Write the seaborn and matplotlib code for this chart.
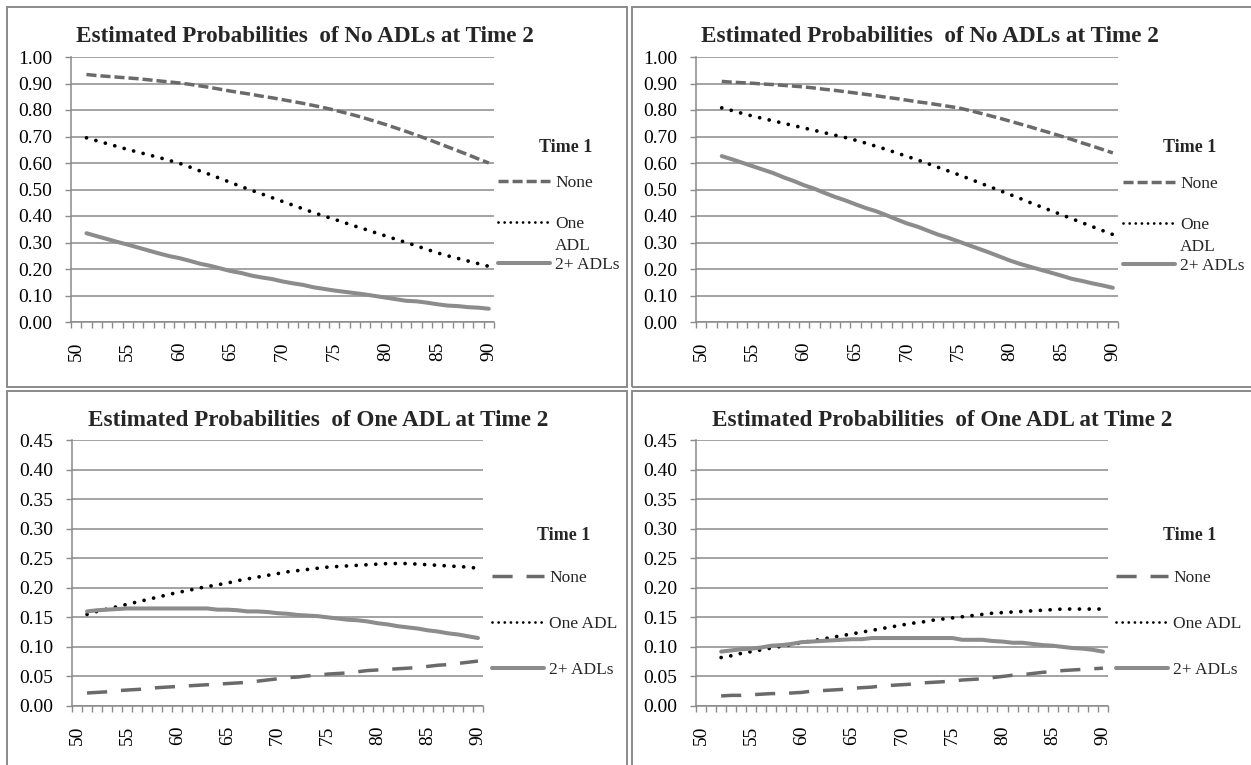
import numpy as np
import pandas as pd
import matplotlib
matplotlib.use('Agg')
import matplotlib.pyplot as plt
import seaborn as sns
from matplotlib.lines import Line2D
from matplotlib.patches import Rectangle

sns.set_theme(style='white')
plt.rcParams['font.family'] = ['Liberation Serif', 'DejaVu Serif']

W, H = 1251, 765

# data: ages on the x axis
ages_left = list(range(51, 91))
ages_right = list(range(52, 91))

groups = ['None', 'One ADL', '2+ ADLs']

# Estimated probabilities of no ADLs at time 2 (left panel)
noadl_left_none = [.934, .930, .927, .924, .921, .918, .914, .910, .906, .902,
                   .897, .891, .885, .878, .871, .865, .859, .852, .846, .839,
                   .832, .825, .817, .809, .800, .790, .780, .769, .757, .745,
                   .732, .719, .705, .691, .676, .661, .646, .631, .615, .600]
noadl_left_one = [.695, .684, .673, .662, .651, .641, .631, .621, .610, .599,
                  .585, .570, .556, .541, .526, .511, .497, .483, .469, .455,
                  .441, .427, .413, .400, .388, .375, .362, .350, .337, .325,
                  .312, .300, .287, .274, .261, .250, .240, .230, .220, .210]
noadl_left_two = [.335, .324, .313, .302, .292, .281, .270, .259, .249, .241,
                  .231, .220, .212, .202, .192, .185, .175, .168, .162, .153,
                  .146, .140, .131, .125, .119, .114, .109, .104, .098, .092,
                  .086, .080, .078, .073, .067, .062, .060, .056, .054, .050]

# Estimated probabilities of no ADLs at time 2 (right panel)
noadl_right_none = [.908, .905, .903, .901, .898, .896, .893, .890, .887,
                    .883, .878, .874, .869, .864, .859, .854, .848, .843, .837,
                    .831, .826, .820, .814, .808, .799, .789, .779, .769, .758,
                    .747, .736, .724, .713, .701, .689, .676, .664, .651, .638]
noadl_right_one = [.808, .798, .787, .777, .768, .759, .750, .741, .732,
                   .723, .714, .705, .696, .686, .675, .663, .651, .638, .625,
                   .612, .598, .584, .570, .556, .541, .526, .511, .496, .481,
                   .466, .450, .435, .420, .405, .390, .375, .360, .345, .330]
noadl_right_two = [.626, .614, .601, .588, .575, .562, .546, .532, .516,
                   .503, .487, .472, .459, .444, .430, .418, .403, .387, .372,
                   .360, .345, .330, .318, .304, .290, .276, .262, .247, .232,
                   .219, .208, .197, .186, .175, .163, .155, .146, .138, .129]

# Estimated probabilities of one ADL at time 2 (left panel)
oneadl_left_none = [.022, .023, .024, .026, .027, .028, .029, .031, .032, .033,
                    .034, .035, .036, .037, .038, .039, .040, .042, .044, .046,
                    .048, .049, .051, .052, .054, .055, .056, .058, .060, .061,
                    .062, .063, .064, .065, .067, .069, .070, .072, .074, .076]
oneadl_left_one = [.155, .160, .164, .168, .172, .176, .180, .184, .188, .192,
                   .195, .199, .202, .205, .208, .212, .215, .218, .221, .224,
                   .227, .229, .231, .233, .235, .236, .237, .238, .239, .240,
                   .241, .241, .241, .240, .239, .238, .237, .236, .235, .233]
oneadl_left_two = [.160, .162, .163, .164, .165, .165, .165, .165, .165, .165,
                   .165, .165, .165, .163, .163, .162, .160, .160, .159, .157,
                   .156, .154, .153, .152, .150, .148, .146, .145, .143, .140,
                   .138, .135, .133, .131, .128, .126, .123, .121, .118, .115]

# Estimated probabilities of one ADL at time 2 (right panel)
oneadl_right_none = [.017, .018, .018, .019, .020, .021, .021, .022, .023,
                     .025, .026, .027, .028, .030, .031, .032, .034, .035, .036,
                     .037, .039, .040, .041, .042, .044, .045, .046, .048, .050,
                     .052, .053, .055, .057, .058, .060, .061, .062, .063, .064]
oneadl_right_one = [.082, .085, .089, .092, .095, .098, .101, .104, .107,
                    .110, .113, .116, .119, .122, .125, .128, .131, .134, .137,
                    .140, .142, .145, .147, .149, .151, .153, .155, .157, .158,
                    .159, .160, .161, .162, .163, .164, .164, .164, .164, .164]
oneadl_right_two = [.092, .094, .096, .097, .099, .102, .103, .105, .108,
                    .109, .110, .111, .112, .113, .113, .115, .115, .115, .115,
                    .115, .115, .115, .115, .115, .112, .112, .112, .110, .109,
                    .107, .107, .105, .103, .102, .100, .098, .097, .095, .092]

title_no = 'Estimated Probabilities  of No ADLs at Time 2'
title_one = 'Estimated Probabilities  of One ADL at Time 2'

GRID = '#8a8a8a'
colors = {'None': '#6a6a6a', 'One ADL': '#000000', '2+ ADLs': '#8c8c8c'}
widths = {'None': 2.5, 'One ADL': 2.7, '2+ ADLs': 2.9}
dots = (0.01, 2.6)

# panel layout in pixels: axes box, title pos, legend pos, chart frame
panels = [
    dict(ages=ages_left, vals=[noadl_left_none, noadl_left_one, noadl_left_two],
         title=title_no, ymax=1.0, ystep=0.1, box=(71, 57, 494, 322),
         tpos=(305, 37), leg_x=498, leg_y=224, pitch=1.44, t1=(566, 148),
         adl=(555, 246), dash=(2.9, 1.15), frame=(7, 7, 627, 387)),
    dict(ages=ages_right, vals=[noadl_right_none, noadl_right_one, noadl_right_two],
         title=title_no, ymax=1.0, ystep=0.1, box=(696, 57, 1118, 322),
         tpos=(930, 37), leg_x=1123, leg_y=225, pitch=1.44, t1=(1190, 148),
         adl=(1180, 247), dash=(2.9, 1.15), frame=(632, 7, 1300, 387)),
    dict(ages=ages_left, vals=[oneadl_left_none, oneadl_left_one, oneadl_left_two],
         title=title_one, ymax=0.45, ystep=0.05, box=(72, 440, 483, 706),
         tpos=(318, 420), leg_x=492, leg_y=624, pitch=1.73, t1=(564, 535),
         adl=None, dash=(5.8, 4.0), frame=(7, 391, 627, 800)),
    dict(ages=ages_right, vals=[oneadl_right_none, oneadl_right_one, oneadl_right_two],
         title=title_one, ymax=0.45, ystep=0.05, box=(696, 440, 1108, 706),
         tpos=(942, 420), leg_x=1116, leg_y=624, pitch=1.73, t1=(1190, 535),
         adl=None, dash=(5.8, 4.0), frame=(632, 391, 1300, 800)),
]

fig = plt.figure(figsize=(W / 100, H / 100), dpi=100)

for p in panels:
    l, t, r, b = p['box']
    ax = fig.add_axes([l / W, 1 - b / H, (r - l) / W, (b - t) / H])

    rows = []
    for g, v in zip(groups, p['vals']):
        rows.append(pd.DataFrame({'age': p['ages'], 'prob': v, 'time1': g}))
    df = pd.concat(rows, ignore_index=True)

    dashes = {'None': p['dash'], 'One ADL': dots, '2+ ADLs': ''}
    sns.lineplot(data=df, x='age', y='prob', hue='time1', style='time1',
                 size='time1', hue_order=groups, style_order=groups,
                 size_order=groups, palette=colors, dashes=dashes,
                 sizes=widths, legend=False, ax=ax)
    for line in ax.lines:
        if line.get_color() in ('#000000', 'k', (0, 0, 0, 1)):
            line.set_dash_capstyle('round')

    ax.set_xlim(49.5, 90.5)
    ax.set_ylim(0, p['ymax'])
    ax.set_yticks(np.arange(0, p['ymax'] + 1e-6, p['ystep']))
    ax.set_yticklabels(['%.2f' % y for y in ax.get_yticks()])
    ax.set_xticks(range(50, 91, 5))
    ax.set_xticklabels([str(a) for a in range(50, 91, 5)], rotation=90)
    ax.set_xticks(np.arange(49.5, 90.6, 1), minor=True)
    ax.set_xlabel('')
    ax.set_ylabel('')

    ax.tick_params(axis='x', which='major', length=0, pad=14, labelsize=14,
                   labelcolor='black')
    ax.tick_params(axis='x', which='minor', length=4, width=1, color=GRID,
                   direction='out', bottom=True)
    ax.tick_params(axis='y', length=4, width=1, color=GRID, direction='out',
                   left=True, pad=9.5, labelsize=14, labelcolor='black')

    ax.yaxis.grid(True, color=GRID, linewidth=1.1)
    ax.xaxis.grid(False)
    ax.set_axisbelow(True)
    for side in ['top', 'right']:
        ax.spines[side].set_visible(False)
    for side in ['left', 'bottom']:
        ax.spines[side].set_color(GRID)
        ax.spines[side].set_linewidth(1.1)

    fig.text(p['tpos'][0] / W, 1 - p['tpos'][1] / H, p['title'],
             ha='center', va='center', fontsize=16.7, fontweight='bold')

    # legend
    labels = ['None', 'One', '2+ ADLs'] if p['adl'] else groups
    handles = [
        Line2D([], [], color=colors['None'], lw=widths['None'],
               linestyle=(0, p['dash'])),
        Line2D([], [], color='black', lw=2.0,
               linestyle=(0, (0.01, 2.2)), dash_capstyle='round'),
        Line2D([], [], color=colors['2+ ADLs'], lw=widths['2+ ADLs']),
    ]
    fig.legend(handles, labels, loc='center left',
               bbox_to_anchor=(p['leg_x'] / W, 1 - p['leg_y'] / H),
               frameon=False, borderpad=0, borderaxespad=0,
               handlelength=3.0, handletextpad=0.3,
               labelspacing=p['pitch'], prop={'size': 12.5})
    if p['adl']:
        fig.text(p['adl'][0] / W, 1 - p['adl'][1] / H, 'ADL',
                 ha='left', va='center', fontsize=12.5)
    fig.text(p['t1'][0] / W, 1 - p['t1'][1] / H, 'Time 1',
             ha='center', va='center', fontsize=13, fontweight='bold')

    # chart frame
    fl, ft, fr, fb = p['frame']
    fig.add_artist(Rectangle((fl / W, 1 - fb / H), (fr - fl) / W, (fb - ft) / H,
                             transform=fig.transFigure, fill=False,
                             edgecolor='#8a8a8a', linewidth=1.4))

fig.savefig('out.png', dpi=100, facecolor='white')
